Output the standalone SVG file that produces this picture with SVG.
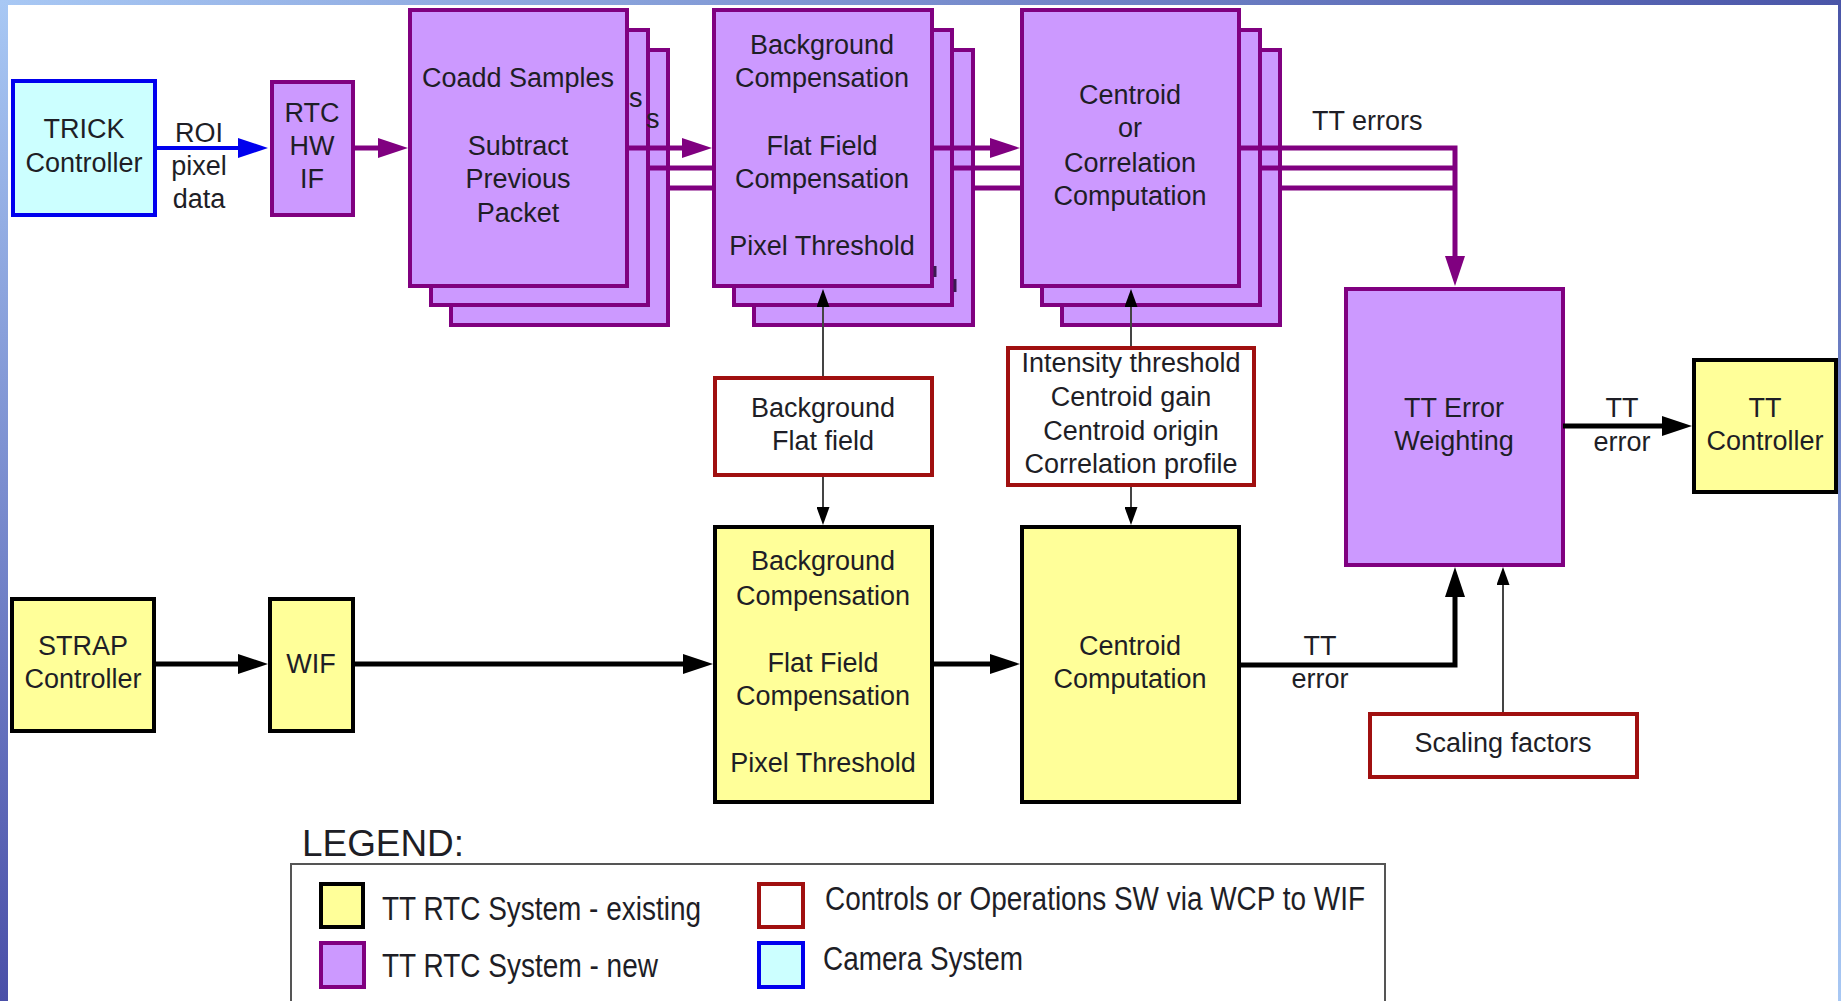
<svg xmlns="http://www.w3.org/2000/svg" width="1841" height="1001" viewBox="0 0 1841 1001">
<style>
  text { font-family: "Liberation Sans", Arial, sans-serif; font-size: 27px; fill: #1e1e26; }
  .c { text-anchor: middle; }
  .box { stroke-width: 4; }
  .new { fill: #cc99ff; stroke: #800080; }
  .old { fill: #ffff99; stroke: #000; }
  .cam { fill: #ccffff; stroke: #0000ee; }
  .ctl { fill: #ffffff; stroke: #a01010; }
  .pl { fill: none; stroke: #800080; stroke-width: 5; }
  .bl { fill: none; stroke: #000; stroke-width: 5; }
  .bu { fill: none; stroke: #0000ee; stroke-width: 4; }
  .th { fill: none; stroke: #444; stroke-width: 2; }
  .lg { font-size: 33px; }
  .lt { font-size: 36px; }
</style>
<defs>
  <linearGradient id="gL" x1="0" y1="0" x2="0" y2="1">
    <stop offset="0" stop-color="#a8c8f4"/>
    <stop offset="1" stop-color="#4a4fa8"/>
  </linearGradient>
  <linearGradient id="gT" x1="0" y1="0" x2="1" y2="0">
    <stop offset="0" stop-color="#a8c8f4"/>
    <stop offset="1" stop-color="#4a55a8"/>
  </linearGradient>
  <linearGradient id="gR" x1="0" y1="0" x2="0" y2="1">
    <stop offset="0" stop-color="#4a55a8"/>
    <stop offset="1" stop-color="#a8c8f4"/>
  </linearGradient>
  <marker id="aP" markerUnits="userSpaceOnUse" markerWidth="30" markerHeight="20" refX="20" refY="10" orient="auto">
    <path d="M0,0 L30,10 L0,20 z" fill="#800080"/>
  </marker>
  <marker id="aB" markerUnits="userSpaceOnUse" markerWidth="30" markerHeight="20" refX="20" refY="10" orient="auto">
    <path d="M0,0 L30,10 L0,20 z" fill="#000"/>
  </marker>
  <marker id="aU" markerUnits="userSpaceOnUse" markerWidth="30" markerHeight="20" refX="20" refY="10" orient="auto">
    <path d="M0,0 L30,10 L0,20 z" fill="#0000ee"/>
  </marker>
  <marker id="aS" markerUnits="userSpaceOnUse" markerWidth="18" markerHeight="13" refX="14" refY="6.5" orient="auto">
    <path d="M0,0 L18,6.5 L0,13 z" fill="#000"/>
  </marker>
</defs>

<rect x="0" y="0" width="1841" height="1001" fill="#ffffff"/>
<rect x="0" y="0" width="8" height="1001" fill="url(#gL)"/>
<rect x="0" y="0" width="1841" height="5" fill="url(#gT)"/>
<rect x="1838" y="0" width="3" height="1001" fill="url(#gR)"/>

<g id="trick-controller">
  <rect class="box cam" x="13" y="81" width="142" height="134"/>
  <text class="c" x="84" y="138">TRICK</text>
  <text class="c" x="84" y="172">Controller</text>
</g>
<g id="rtc-hw-if">
  <rect class="box new" x="272" y="82" width="81" height="133"/>
  <text class="c" x="312" y="122">RTC</text>
  <text class="c" x="312" y="155">HW</text>
  <text class="c" x="312" y="188">IF</text>
</g>
<g id="coadd-stack">
  <rect class="box new" x="451" y="50" width="217" height="275"/>
  <rect class="box new" x="431" y="30" width="217" height="275"/>
  <rect class="box new" x="410" y="10" width="217" height="276"/>
  <text class="c" x="518" y="87">Coadd Samples</text>
  <text class="c" x="518" y="155">Subtract</text>
  <text class="c" x="518" y="188">Previous</text>
  <text class="c" x="518" y="222">Packet</text>
  <text x="629" y="107">s</text>
  <text x="646" y="128">s</text>
</g>
<g id="bg-stack">
  <rect class="box new" x="754" y="50" width="219" height="275"/>
  <rect class="box new" x="734" y="30" width="218" height="275"/>
  <rect class="box new" x="714" y="10" width="218" height="276"/>
  <text class="c" x="822" y="54">Background</text>
  <text class="c" x="822" y="87">Compensation</text>
  <text class="c" x="822" y="155">Flat Field</text>
  <text class="c" x="822" y="188">Compensation</text>
  <text class="c" x="822" y="255">Pixel Threshold</text>
  <path d="M935,266 V277 M955,279 V292" stroke="#3a1a50" stroke-width="3"/>
</g>
<g id="centroid-stack">
  <rect class="box new" x="1062" y="50" width="218" height="275"/>
  <rect class="box new" x="1042" y="30" width="218" height="275"/>
  <rect class="box new" x="1022" y="10" width="217" height="276"/>
  <text class="c" x="1130" y="104">Centroid</text>
  <text class="c" x="1130" y="137">or</text>
  <text class="c" x="1130" y="172">Correlation</text>
  <text class="c" x="1130" y="205">Computation</text>
</g>
<g id="tt-error-weighting">
  <rect class="box new" x="1346" y="289" width="217" height="276"/>
  <text class="c" x="1454" y="417">TT Error</text>
  <text class="c" x="1454" y="450">Weighting</text>
</g>
<g id="tt-controller">
  <rect class="box old" x="1694" y="360" width="142" height="132"/>
  <text class="c" x="1765" y="417">TT</text>
  <text class="c" x="1765" y="450">Controller</text>
</g>
<g id="bg-flat-params">
  <rect class="box ctl" x="715" y="378" width="217" height="97"/>
  <text class="c" x="823" y="417">Background</text>
  <text class="c" x="823" y="450">Flat field</text>
</g>
<g id="centroid-params">
  <rect class="box ctl" x="1008" y="348" width="246" height="137"/>
  <text class="c" x="1131" y="372">Intensity threshold</text>
  <text class="c" x="1131" y="406">Centroid gain</text>
  <text class="c" x="1131" y="440">Centroid origin</text>
  <text class="c" x="1131" y="473">Correlation profile</text>
</g>
<g id="strap-controller">
  <rect class="box old" x="12" y="599" width="142" height="132"/>
  <text class="c" x="83" y="655">STRAP</text>
  <text class="c" x="83" y="688">Controller</text>
</g>
<g id="wif">
  <rect class="box old" x="270" y="599" width="83" height="132"/>
  <text class="c" x="311" y="673">WIF</text>
</g>
<g id="bg-compensation-existing">
  <rect class="box old" x="715" y="527" width="217" height="275"/>
  <text class="c" x="823" y="570">Background</text>
  <text class="c" x="823" y="605">Compensation</text>
  <text class="c" x="823" y="672">Flat Field</text>
  <text class="c" x="823" y="705">Compensation</text>
  <text class="c" x="823" y="772">Pixel Threshold</text>
</g>
<g id="centroid-computation">
  <rect class="box old" x="1022" y="527" width="217" height="275"/>
  <text class="c" x="1130" y="655">Centroid</text>
  <text class="c" x="1130" y="688">Computation</text>
</g>
<g id="scaling-factors">
  <rect class="box ctl" x="1370" y="714" width="267" height="63"/>
  <text class="c" x="1503" y="752">Scaling factors</text>
</g>

<g id="connectors">
  <path class="bu" d="M155,148 H258" marker-end="url(#aU)"/>
  <path class="pl" d="M353,148 H398" marker-end="url(#aP)"/>
  <path class="pl" d="M627,148 H702" marker-end="url(#aP)"/>
  <path class="pl" d="M650,168 H712 M670,188 H712"/>
  <path class="pl" d="M932,148 H1010" marker-end="url(#aP)"/>
  <path class="pl" d="M954,168 H1020 M975,188 H1020"/>
  <path class="pl" d="M1239,148 H1455 V276" marker-end="url(#aP)"/>
  <path class="pl" d="M1260,168 H1455 M1281,188 H1455"/>
  <path class="th" d="M823,376 V293" marker-end="url(#aS)"/>
  <path class="th" d="M823,477 V521" marker-end="url(#aS)"/>
  <path class="th" d="M1131,346 V293" marker-end="url(#aS)"/>
  <path class="th" d="M1131,487 V521" marker-end="url(#aS)"/>
  <path class="th" d="M1503,712 V571" marker-end="url(#aS)"/>
  <path class="bl" d="M154,664 H258" marker-end="url(#aB)"/>
  <path class="bl" d="M353,664 H703" marker-end="url(#aB)"/>
  <path class="bl" d="M932,664 H1010" marker-end="url(#aB)"/>
  <path class="bl" d="M1239,665 H1455 V577" marker-end="url(#aB)"/>
  <path class="bl" d="M1563,426 H1682" marker-end="url(#aB)"/>
  <text class="c" x="199" y="142">ROI</text>
  <text class="c" x="199" y="175">pixel</text>
  <text class="c" x="199" y="208">data</text>
  <text x="1312" y="130">TT errors</text>
  <text class="c" x="1622" y="417">TT</text>
  <text class="c" x="1622" y="451">error</text>
  <text class="c" x="1320" y="655">TT</text>
  <text class="c" x="1320" y="688">error</text>
</g>

<g id="legend">
  <text class="lt" x="302" y="856" textLength="162" lengthAdjust="spacingAndGlyphs">LEGEND:</text>
  <rect x="291" y="864" width="1094" height="150" fill="none" stroke="#555" stroke-width="2"/>
  <rect class="box old" x="321" y="884" width="42" height="43"/>
  <rect class="box new" x="321" y="943" width="43" height="44"/>
  <rect class="box ctl" x="759" y="884" width="44" height="43"/>
  <rect class="box cam" x="759" y="943" width="44" height="44"/>
  <text class="lg" x="382" y="920" textLength="319" lengthAdjust="spacingAndGlyphs">TT RTC System - existing</text>
  <text class="lg" x="382" y="977" textLength="276" lengthAdjust="spacingAndGlyphs">TT RTC System - new</text>
  <text class="lg" x="825" y="910" textLength="540" lengthAdjust="spacingAndGlyphs">Controls or Operations SW via WCP to WIF</text>
  <text class="lg" x="823" y="970" textLength="200" lengthAdjust="spacingAndGlyphs">Camera System</text>
</g>
</svg>
